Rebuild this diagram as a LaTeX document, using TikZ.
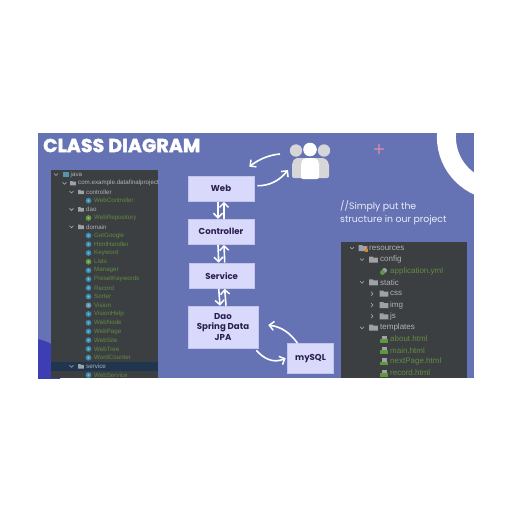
\documentclass[tikz,border=0pt]{standalone}
\usepackage{fontspec}
\setmainfont{Poppins}
\newfontfamily\idefont{Liberation Sans}
\newfontfamily\titlefont[FakeBold=2.2,LetterSpace=1]{Poppins Bold}
\usetikzlibrary{arrows.meta}
\definecolor{slide}{RGB}{101,114,180}
\definecolor{panel}{RGB}{60,63,65}
\definecolor{boxfill}{RGB}{217,218,251}
\definecolor{boxtext}{RGB}{42,32,78}
\definecolor{blob}{RGB}{62,62,180}
\definecolor{leaf}{RGB}{98,140,66}
\definecolor{ide}{RGB}{176,180,184}
\definecolor{folder}{RGB}{158,162,166}
\definecolor{teal}{RGB}{56,140,176}
\definecolor{ifacegreen}{RGB}{96,150,60}
\definecolor{rowsel}{RGB}{31,54,78}
\definecolor{pinkplus}{RGB}{222,140,170}
\definecolor{persongray}{RGB}{214,214,216}
\tikzset{
  layerbox/.style={draw=boxfill!80!slide,line width=.6pt,fill=boxfill,text=boxtext,font=\fontsize{8.6}{10.5}\selectfont\bfseries,align=center,inner sep=0pt},
  flow/.style={white,line width=1.6pt,-{Straight Barb[length=4.5pt,width=9pt,line width=1.5pt]}},
  lefttext/.style={anchor=west,inner sep=0pt,font=\idefont\fontsize{6.2}{7}\selectfont,text=ide},
  leaftext/.style={lefttext,text=leaf},
  righttext/.style={anchor=west,inner sep=0pt,font=\idefont\fontsize{8}{9}\selectfont,text=ide},
  rightleaf/.style={righttext,text=leaf},
  chev/.style={draw=ide,line width=.6pt},
}
\newcommand{\fold}[2]{\fill[folder] (#1-2.9,#2-2.2) rectangle (#1-.5,#2-1) (#1-2.9,#2-1.5) rectangle (#1+2.9,#2+2.2);}
\newcommand{\bigfold}[2]{\fill[folder] (#1-4.3,#2-3) rectangle (#1-.5,#2-1.5) (#1-4.3,#2-2) rectangle (#1+4.3,#2+3);}
\newcommand{\downchev}[2]{\draw[chev] (#1-2,#2-1) -- (#1,#2+1) -- (#1+2,#2-1);}
\newcommand{\rightchev}[2]{\draw[chev] (#1-1,#2-2) -- (#1+1,#2) -- (#1-1,#2+2);}
\newcommand{\klass}[3][teal]{\fill[#1] (#2,#3) circle (2.9pt);\fill[white,opacity=.35] (#2,#3) circle (1.2pt);}
\newcommand{\htmlicon}[2]{\fill[folder] (#1-2.5,#2-3.5) rectangle (#1+2.5,#2+1);\fill[ifacegreen] (#1-4,#2) rectangle (#1+4,#2+3.5);}
\begin{document}
\begin{tikzpicture}[x=1pt,y=-1pt]
\useasboundingbox (0,0) rectangle (512,512);
\fill[white] (0,0) rectangle (512,512);
\fill[slide] (38,133) rectangle (474,378);
\begin{scope}
  \clip (38,133) rectangle (474,378);
  \fill[blob] (30,338) .. controls (42,339) and (50,342) .. (60,350) -- (60,385) -- (30,385) -- cycle;
  \draw[white,line width=19pt] (500,137) circle (53.6pt);
\end{scope}
\node[anchor=west,inner sep=0pt,text=white,font=\titlefont\fontsize{18.8}{20}\selectfont] (title) at (43,145.5) {CLASS DIAGRAM};
% left panel
\fill[panel] (51,170) rectangle (158,378);
\fill[rowsel] (51,362) rectangle (158,371);
\fill[teal!70!folder] (63,172) rectangle (69,177);
\node[lefttext] (l0) at (70.5,174.5) {java};
\node[lefttext] (l1) at (78,183.2) {com.example.datafinalproject};
\node[lefttext] (l2) at (86,192) {controller};
\node[leaftext] (l3) at (94,200.6) {WebController};
\node[lefttext] (l4) at (86,209.4) {dao};
\node[leaftext] (l5) at (94,218) {WebRepository};
\node[lefttext] (l6) at (86,226.8) {domain};
\foreach \i [count=\n from 7] in {GetGoogle,HtmlHandler,Keyword,Lists,Manager,PresetKeywords,Record,Sorter,Vision,VisionHelp,WebNode,WebPage,WebSite,WebTree,WordCounter}{
  \node[leaftext] (l\n) at (94,{174.5+8.72*\n}) {\i};
}
\node[lefttext] (l22) at (86,366.3) {service};
\node[leaftext] (l23) at (94,375) {WebService};
\fold{73}{183.2}\fold{81}{192}\fold{81}{209.4}\fold{81}{226.8}\fold{81}{366.3}
\downchev{56}{174.5}\downchev{64.5}{183.2}\downchev{71.5}{192}\downchev{71.5}{209.4}\downchev{71.5}{226.8}\downchev{71.5}{366.3}
\foreach \n in {3,7,8,9,11,12,13,14,16,17,18,19,20,21,23}{\klass{88.5}{174.5+8.72*\n}}
\klass[ifacegreen]{88.5}{218}\klass[ifacegreen]{88.5}{261.7}\klass[teal!60!folder]{88.5}{305.3}
% right panel
\fill[panel] (341,242) rectangle (467,378);
\node[righttext] (r0) at (369,248) {resources};
\node[righttext] (r1) at (380,259.5) {config};
\node[rightleaf] (r2) at (390,271) {application.yml};
\node[righttext] (r3) at (380,282.3) {static};
\node[righttext] (r4) at (390,293.7) {css};
\node[righttext] (r5) at (390,305) {img};
\node[righttext] (r6) at (390,316.3) {js};
\node[righttext] (r7) at (380,327.7) {templates};
\node[rightleaf] (r8) at (390,339) {about.html};
\node[rightleaf] (r9) at (390,350.3) {main.html};
\node[rightleaf] (r10) at (390,361.8) {nextPage.html};
\node[rightleaf] (r11) at (390,373) {record.html};
\bigfold{363}{248}\bigfold{373.5}{259.5}\bigfold{373.5}{282.3}\bigfold{384}{293.7}\bigfold{384}{305}\bigfold{384}{316.3}\bigfold{373.5}{327.7}
\fill[orange!70!brown] (365,249) rectangle (367.5,252);
\downchev{352}{248}\downchev{362}{259.5}\downchev{362}{282.3}\downchev{362}{327.7}
\rightchev{372}{293.7}\rightchev{372}{305}\rightchev{372}{316.3}
\fill[folder] (384.5,270.5) circle (2.5pt);\fill[ifacegreen] (382.5,272.5) circle (2.5pt);
\htmlicon{384}{339}\htmlicon{384}{350.3}\htmlicon{384}{361.8}\htmlicon{384}{373}
% plus
\fill[pinkplus] (378.4,144) rectangle (379.6,154) (374,148.4) rectangle (384,149.6);
% note
\node[anchor=north west,inner sep=0pt,align=left,text=white!88!slide,font=\fontsize{9.35}{13}\selectfont] (note) at (340,200) {//Simply put the\\structure in our project};
% users
\fill[persongray] (296,150.5) circle (6.2pt) (324,150.5) circle (6.2pt);
\fill[persongray,rounded corners=2pt] (292,178) -- (292,163) -- (295,158) -- (325,158) -- (329,163) -- (329,178) -- cycle;
\fill[white] (310,149.5) circle (6.8pt);
\fill[white,rounded corners=2pt] (301,179) -- (301,162) -- (304,158) -- (316,158) -- (319,162) -- (319,179) -- cycle;
\coordinate (users) at (310,165);
% boxes
\node[layerbox,minimum width=66pt,minimum height=25.5pt] (web) at (221,188.7) {Web};
\node[layerbox,minimum width=66pt,minimum height=25.5pt] (controller) at (221,231.8) {Controller};
\node[layerbox,minimum width=65.5pt,minimum height=25.5pt] (service) at (221.7,275.7) {Service};
\node[layerbox,minimum width=70pt,minimum height=42pt] (dao) at (223,327) {Dao\\Spring Data\\JPA};
\node[layerbox,minimum width=46pt,minimum height=29.5pt] (mysql) at (310.5,358.2) {mySQL};
% connectors
\foreach \a/\b in {web/controller,controller/service,service/dao}{
  \draw[flow] ([xshift=-3pt]\a.south) -- ([xshift=-3pt]\b.north);
  \draw[flow] ([xshift=3pt]\b.north) -- ([xshift=3pt]\a.south);
}
\draw[flow] ([shift={(3,-3)}]web.east) .. controls (270,186) and (280,180) .. ([shift={(-22,5)}]users);
\draw[flow] ([shift={(-30,-11)}]users) .. controls (268,155) and (258,160) .. ([shift={(-5,-9)}]web.north east);
\draw[flow] ([shift={(-2,2)}]dao.south east) .. controls (263,358) and (273,364) .. ([xshift=-1.5pt]mysql.west);
\draw[flow] ([xshift=-13pt]mysql.north) .. controls (290,333) and (282,327) .. ([shift={(10,-2)}]dao.east);
\end{tikzpicture}
\end{document}
